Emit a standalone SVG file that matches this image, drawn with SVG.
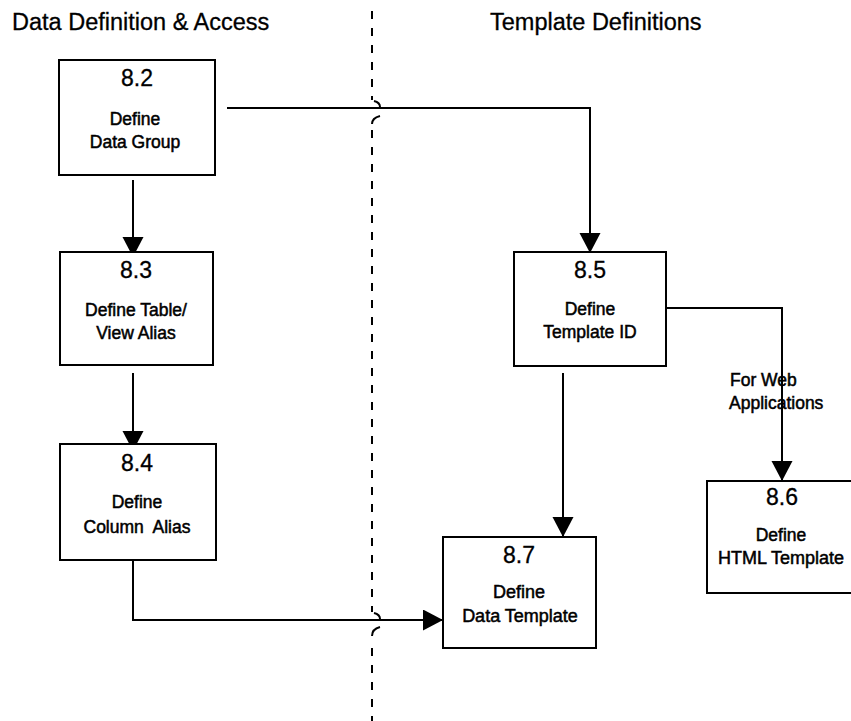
<svg xmlns="http://www.w3.org/2000/svg" width="851" height="721" viewBox="0 0 851 721">
  <style>
    .box { fill: #fff; stroke: #000; stroke-width: 2; }
    .num { font-family: "Liberation Sans", Arial, sans-serif; font-size: 23px; fill: #000; stroke: #000; stroke-width: 0.3; text-anchor: middle; }
    .lbl { font-family: "Liberation Sans", Arial, sans-serif; font-size: 17.5px; fill: #000; stroke: #000; stroke-width: 0.5; text-anchor: middle; }
    .hdr { font-family: "Liberation Sans", Arial, sans-serif; font-size: 23.5px; fill: #000; stroke: #000; stroke-width: 0.3; }
    .note { font-family: "Liberation Sans", Arial, sans-serif; font-size: 17.5px; fill: #000; stroke: #000; stroke-width: 0.5; }
    .conn { fill: none; stroke: #000; stroke-width: 2; marker-end: url(#arrow); }
    .divider { fill: none; stroke: #000; stroke-width: 2; stroke-dasharray: 8 9; }
    .hop { fill: none; stroke: #000; stroke-width: 2; }
  </style>
  <defs>
    <marker id="arrow" markerUnits="userSpaceOnUse" markerWidth="22" markerHeight="22" refX="20" refY="10.5" orient="auto">
      <path d="M0,0 L20,10.5 L0,21 Z" fill="#000"/>
    </marker>
  </defs>
  <rect width="851" height="721" fill="#fff"/>

  <!-- column headings -->
  <g id="headings">
    <text class="hdr" x="12" y="30">Data Definition &amp; Access</text>
    <text class="hdr" x="490" y="30">Template Definitions</text>
  </g>

  <!-- dashed divider between the two columns, with line-jumps at the crossings -->
  <g id="divider">
    <path class="divider" d="M372,11 V100"/>
    <path class="hop" d="M374,101 C378,102 380,104 380,107"/>
    <path class="hop" d="M380,116 C376,117 372,119 372,124"/>
    <path class="divider" d="M372,130 V612"/>
    <path class="hop" d="M374,613 C378,614 380,616 380,619"/>
    <path class="hop" d="M380,627 C376,628 372,630 372,636"/>
    <path class="divider" d="M372,648 V721"/>
  </g>

  <!-- connectors -->
  <g id="connectors">
    <path class="conn" d="M133,180 V257"/>
    <path class="conn" d="M133,373 V451"/>
    <path class="conn" d="M227,108 H590 V253"/>
    <path class="conn" d="M563,373 V537"/>
    <path class="conn" d="M666,308 H782 V481"/>
    <path class="conn" d="M133,560 V620 H443"/>
  </g>

  <g id="note-web">
    <text class="note" x="730" y="386">For Web</text>
    <text class="note" x="729" y="409">Applications</text>
  </g>

  <g id="node-8-2">
    <rect class="box" x="59" y="60" width="156" height="115"/>
    <text class="num" x="137" y="86">8.2</text>
    <text class="lbl" x="135" y="125">Define</text>
    <text class="lbl" x="135" y="148">Data Group</text>
  </g>

  <g id="node-8-3">
    <rect class="box" x="60" y="252" width="153" height="113"/>
    <text class="num" x="136" y="278">8.3</text>
    <text class="lbl" x="136" y="316">Define Table/</text>
    <text class="lbl" x="136" y="339">View Alias</text>
  </g>

  <g id="node-8-4">
    <rect class="box" x="60" y="444" width="156" height="116"/>
    <text class="num" x="137" y="471">8.4</text>
    <text class="lbl" x="137" y="508">Define</text>
    <text class="lbl" x="137" y="533" xml:space="preserve">Column  Alias</text>
  </g>

  <g id="node-8-5">
    <rect class="box" x="514" y="252" width="152" height="114"/>
    <text class="num" x="590" y="278">8.5</text>
    <text class="lbl" x="590" y="315">Define</text>
    <text class="lbl" x="590" y="338">Template ID</text>
  </g>

  <g id="node-8-6">
    <rect class="box" x="707" y="481" width="150" height="112"/>
    <text class="num" x="782" y="505">8.6</text>
    <text class="lbl" x="781" y="541">Define</text>
    <text class="lbl" x="781" y="564" style="font-size:18px">HTML Template</text>
  </g>

  <g id="node-8-7">
    <rect class="box" x="443" y="537" width="153" height="111"/>
    <text class="num" x="519" y="563">8.7</text>
    <text class="lbl" x="519" y="598" style="font-size:18px">Define</text>
    <text class="lbl" x="520" y="622" style="font-size:18px">Data Template</text>
  </g>
</svg>
